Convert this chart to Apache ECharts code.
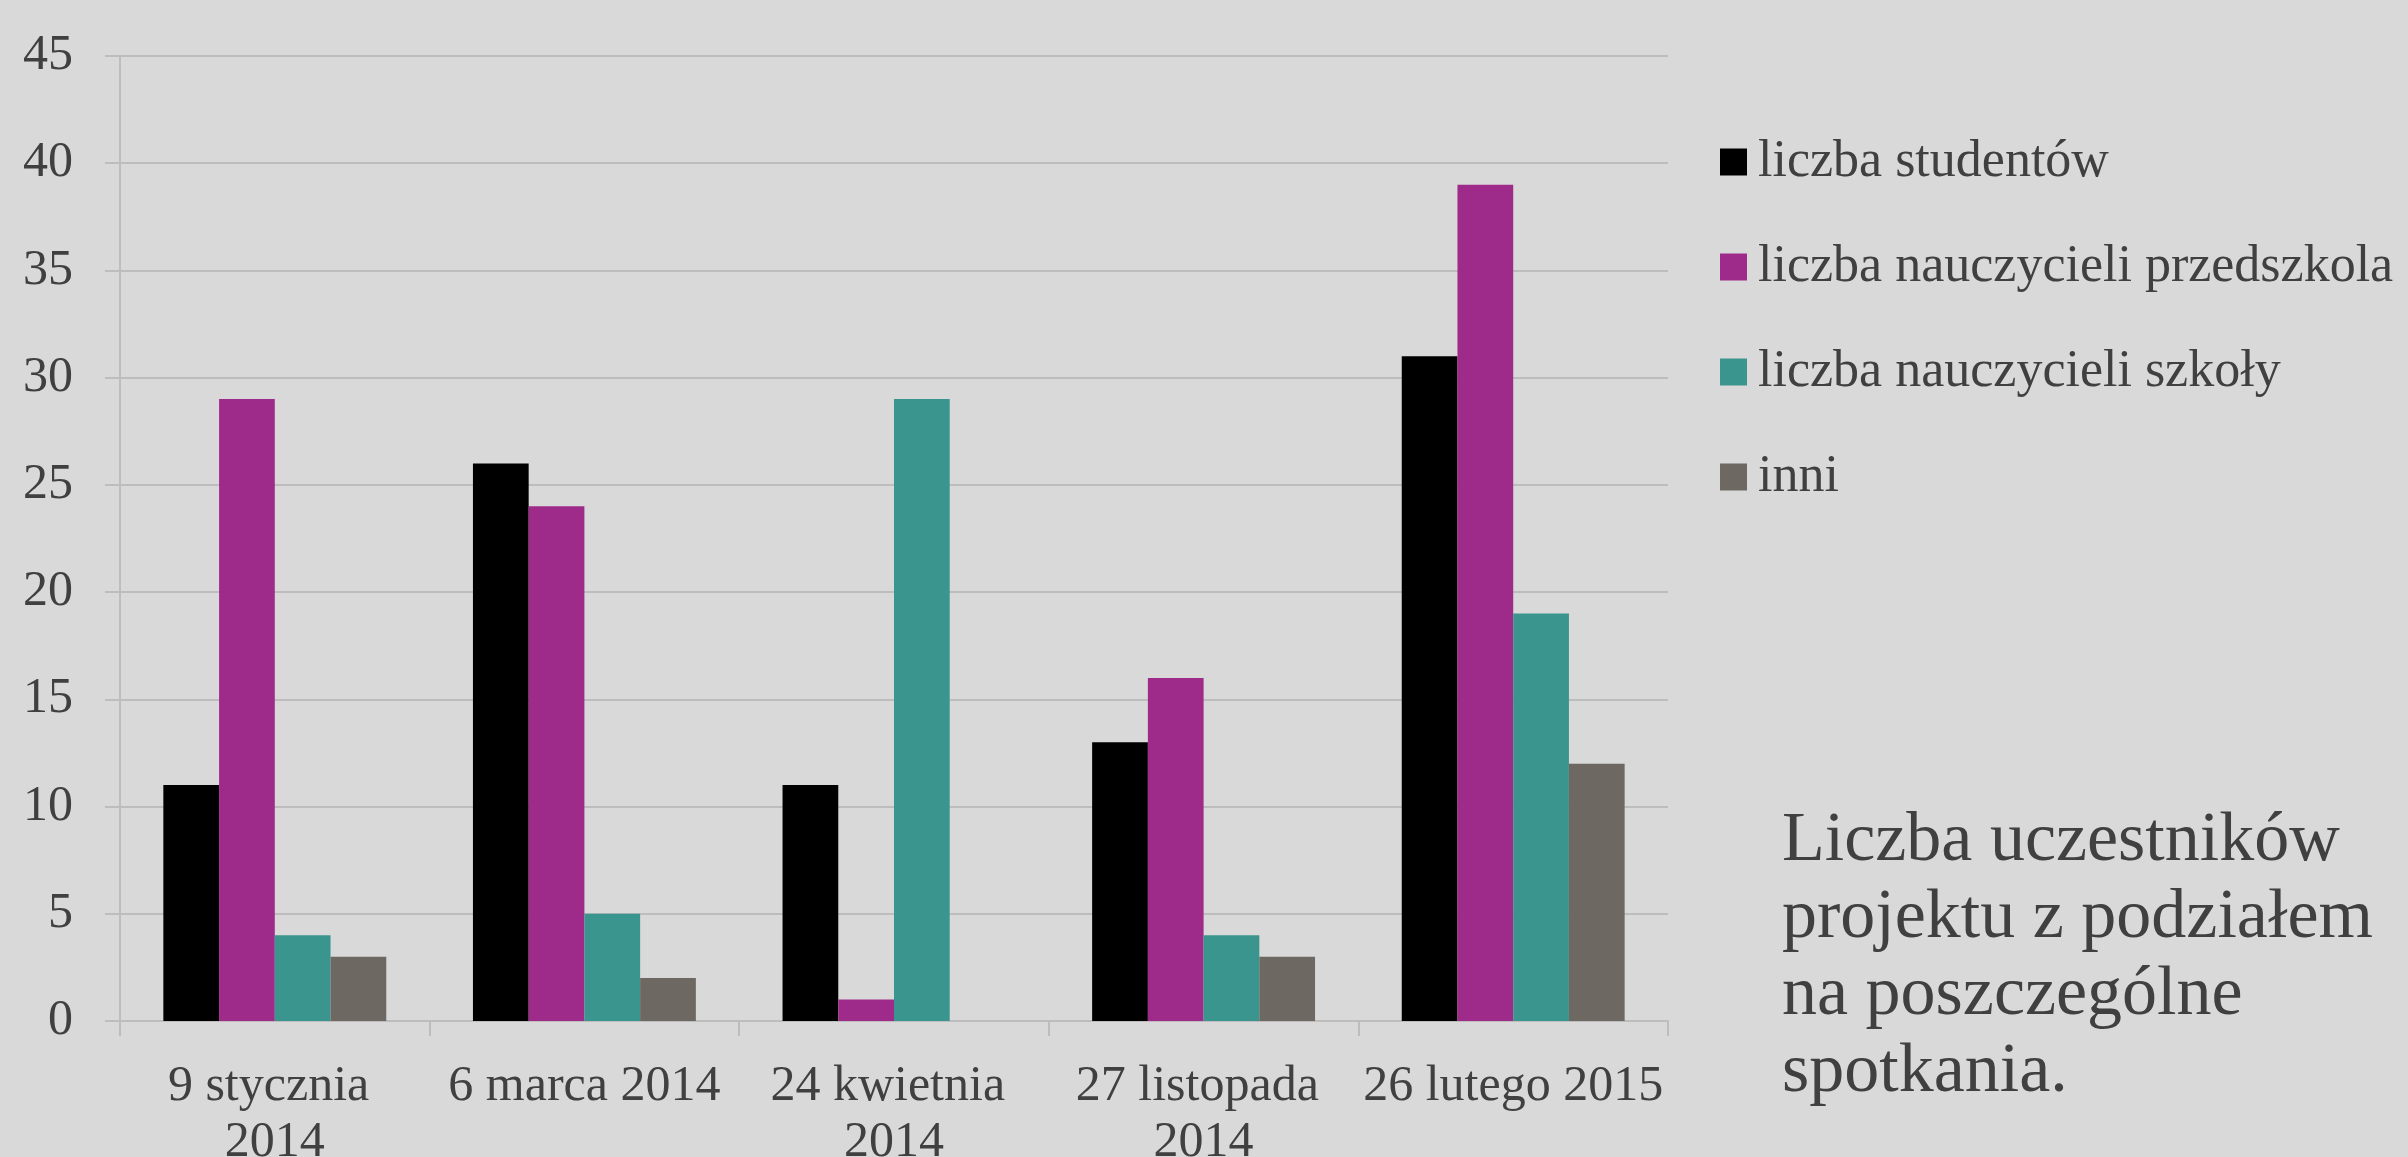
<!DOCTYPE html>
<html>
<head>
<meta charset="utf-8">
<script src="https://cdn.jsdelivr.net/npm/echarts@6/dist/echarts.min.js"></script>
<style>
  html, body { margin: 0; padding: 0; background: #d9d9d9; }
  #chart { width: 2408px; height: 1157px; }
</style>
</head>
<body>
<div id="chart"></div>
<script>
const categories = ['9 stycznia 2014', '6 marca 2014', '24 kwietnia 2014', '27 listopada 2014', '26 lutego 2015'];
const seriesNames = ['liczba studentów', 'liczba nauczycieli przedszkola', 'liczba nauczycieli szkoły', 'inni'];
const studenci = [11, 26, 11, 13, 31];
const nauczycielePrzedszkola = [29, 24, 1, 16, 39];
const nauczycieleSzkoly = [4, 5, 29, 4, 19];
const inni = [3, 2, 0, 3, 12];
const colors = ['#000000', '#9e2b89', '#3a958f', '#6d6862'];
const yTicks = { min: 0, max: 45, interval: 5 };
const title = 'Liczba uczestników\nprojektu z podziałem\nna poszczególne\nspotkania.';

const font = '"Liberation Serif", serif';
const textColor = '#404040';
const lineColor = '#bdbdbd';

const chart = echarts.init(document.getElementById('chart'));

const values = [studenci, nauczycielePrzedszkola, nauczycieleSzkoly, inni];

chart.setOption({
  backgroundColor: '#d9d9d9',
  textStyle: { fontFamily: font },
  title: {
    text: title,
    left: 1782,
    top: 803,
    padding: 0,
    textStyle: {
      fontFamily: font,
      fontSize: 70,
      lineHeight: 77,
      fontWeight: 'normal',
      color: textColor
    }
  },
  legend: {
    orient: 'vertical',
    left: 1715,
    top: 127,
    icon: 'rect',
    itemWidth: 27,
    itemHeight: 27,
    itemGap: 45,
    selectedMode: false,
    data: seriesNames,
    textStyle: {
      fontFamily: font,
      fontSize: 52,
      lineHeight: 60,
      color: textColor,
      padding: [0, 0, 0, 6]
    }
  },
  grid: {
    left: 120,
    right: 740,
    top: 56,
    bottom: 136,
    outerBoundsMode: 'none',
    containLabel: false
  },
  xAxis: {
    type: 'category',
    data: categories,
    axisLine: { show: true, lineStyle: { color: lineColor, width: 2 } },
    axisTick: { show: true, length: 15, lineStyle: { color: lineColor, width: 2 } },
    axisLabel: {
      interval: 0,
      margin: 38,
      fontFamily: font,
      fontSize: 50,
      lineHeight: 56,
      color: textColor,
      width: 308,
      overflow: 'break'
    }
  },
  yAxis: {
    type: 'value',
    min: yTicks.min,
    max: yTicks.max,
    interval: yTicks.interval,
    axisLine: { show: true, lineStyle: { color: lineColor, width: 2 } },
    axisTick: { show: true, length: 15, lineStyle: { color: lineColor, width: 2 } },
    axisLabel: {
      margin: 47,
      fontFamily: font,
      fontSize: 50,
      color: textColor
    },
    splitLine: { lineStyle: { color: lineColor, width: 2 } }
  },
  series: seriesNames.map((name, idx) => ({
    name: name,
    type: 'bar',
    data: values[idx],
    barGap: '0%',
    barCategoryGap: '28%',
    itemStyle: { color: colors[idx] },
    emphasis: { disabled: true }
  }))
});
</script>
</body>
</html>
